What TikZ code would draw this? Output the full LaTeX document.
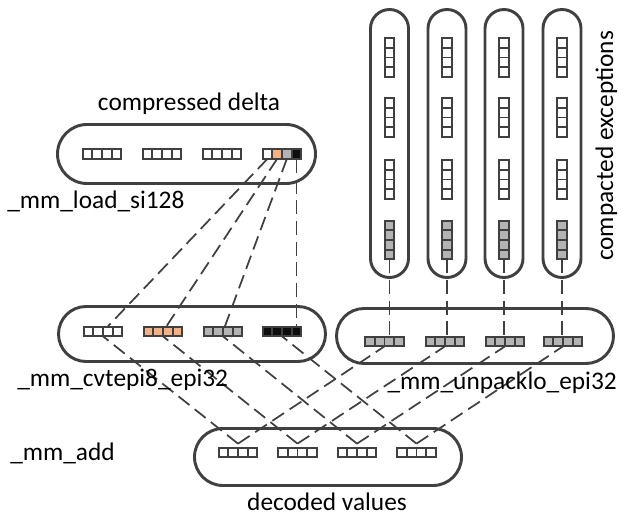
\documentclass[tikz,border=0pt]{standalone}
\usepackage{fontspec}
\setmainfont{Carlito}
\pgfdeclarelayer{bg}
\pgfsetlayers{bg,main}
\def\pxl{0.75pt}
\definecolor{edge}{HTML}{404040}
\definecolor{peach}{HTML}{F4B183}
\definecolor{midgray}{HTML}{B4B4B4}
\definecolor{ink}{HTML}{0D0D0D}

% horizontal strip of four cells: name, cx, cy, four fills
\newcommand\hstrip[7]{%
  \foreach \k/\f in {1/#4,2/#5,3/#6,4/#7}
    \node[sqcell,fill=\f] (#1-\k) at ({#2+(\k-2.5)*9.7},#3) {};
  \coordinate (#1) at (#2,#3);
  \coordinate (#1-n) at (#2,#3-4.85);
  \coordinate (#1-s) at (#2,#3+4.85);}
% vertical strip of four cells: name, cx, cy, fill
\newcommand\vstrip[4]{%
  \foreach \k in {1,...,4}
    \node[sqcell,fill=#4] (#1-\k) at (#2,{#3+(\k-2.5)*9.7}) {};
  \coordinate (#1) at (#2,#3);}

\begin{document}
\begin{tikzpicture}[x=0.75pt,y=-0.75pt,
  capsule/.style={draw=edge, line width=2.2pt, inner sep=0, rectangle, rounded corners=#1},
  sqcell/.style={draw=edge, line width=1.4pt, minimum size=9.7*\pxl, inner sep=0, outer sep=0},
  dashlink/.style={draw=edge, line width=1.3pt, dash pattern=on 10.5pt off 5pt},
  lbl/.style={font=\fontsize{19}{22}\selectfont, text=black, inner sep=0}]

\useasboundingbox (0,0) rectangle (619,517);

% registers
\hstrip{cd1}{102}{154}{white}{white}{white}{white}
\hstrip{cd2}{162}{154}{white}{white}{white}{white}
\hstrip{cd3}{222}{154}{white}{white}{white}{white}
\hstrip{cd4}{282}{154}{white}{peach}{midgray}{ink}

\hstrip{cv1}{103}{331.5}{white}{white}{white}{white}
\hstrip{cv2}{163}{331.5}{peach}{peach}{peach}{peach}
\hstrip{cv3}{223}{331.5}{midgray}{midgray}{midgray}{midgray}
\hstrip{cv4}{282}{331.5}{ink}{ink}{ink}{ink}

\hstrip{up1}{384.5}{341.5}{midgray}{midgray}{midgray}{midgray}
\hstrip{up2}{445}{341.5}{midgray}{midgray}{midgray}{midgray}
\hstrip{up3}{505}{341.5}{midgray}{midgray}{midgray}{midgray}
\hstrip{up4}{563}{341.5}{midgray}{midgray}{midgray}{midgray}

\hstrip{dv1}{238}{452.5}{white}{white}{white}{white}
\hstrip{dv2}{297.5}{452.5}{white}{white}{white}{white}
\hstrip{dv3}{357}{452.5}{white}{white}{white}{white}
\hstrip{dv4}{416.5}{452.5}{white}{white}{white}{white}

\foreach \i/\x in {1/389.5,2/447,3/504,4/562} {
  \vstrip{ve\i a}{\x}{57.5}{white}
  \vstrip{ve\i b}{\x}{117.5}{white}
  \vstrip{ve\i c}{\x}{179.5}{white}
  \vstrip{ve\i d}{\x}{240}{midgray}
}

\begin{pgfonlayer}{bg}
  % containers
  \node[capsule=29.5*\pxl, minimum width=258*\pxl, minimum height=59*\pxl] (delta) at (186.5,154) {};
  \node[capsule=27.5*\pxl, minimum width=267*\pxl, minimum height=55*\pxl] (cvt) at (192,334) {};
  \node[capsule=27.5*\pxl, minimum width=277*\pxl, minimum height=55*\pxl] (unpack) at (475,336) {};
  \node[capsule=28.5*\pxl, minimum width=267*\pxl, minimum height=57*\pxl] (dec) at (328,457) {};
  \foreach \i/\x in {1/389.5,2/447,3/504,4/562}
    \node[capsule=19*\pxl, minimum width=38*\pxl, minimum height=268*\pxl] (exc\i) at (\x,143.5) {};

  % byte spreading
  \foreach \i in {1,2,3}
    \draw[dashlink] (cd4-\i.south) -- (cv\i);
  \draw[dashlink] (cd4-4.south) -- (cd4-4.south |- cv4-4.center);

  % exceptions into the unpacked registers
  \foreach \i in {1,...,4}
    \draw[dashlink] (ve\i d-4.south) -- (ve\i d-4.south |- up\i-n);

  % additions
  \foreach \i in {1,...,4} {
    \draw[dashlink] ([yshift=3pt]dv\i-n) -- (cv\i-s);
    \draw[dashlink] ([yshift=3pt]dv\i-n) -- (up\i-s);
  }
\end{pgfonlayer}

% labels
\node[lbl, anchor=base] (t-delta) at (189,111) {compressed delta};
\node[lbl, anchor=base west] (t-load) at (7,209) {\_mm\_load\_si128};
\node[lbl, anchor=base west] (t-cvt) at (17,387) {\_mm\_cvtepi8\_epi32};
\node[lbl, anchor=base west] (t-add) at (10,460) {\_mm\_add};
\node[lbl, anchor=base east] (t-unpack) at (617,390) {\_mm\_unpacklo\_epi32};
\node[lbl, anchor=base] (t-dec) at (327,510) {decoded values};
\node[lbl, anchor=base, rotate=90] (t-exc) at (613,146) {compacted exceptions};
\end{tikzpicture}
\end{document}
